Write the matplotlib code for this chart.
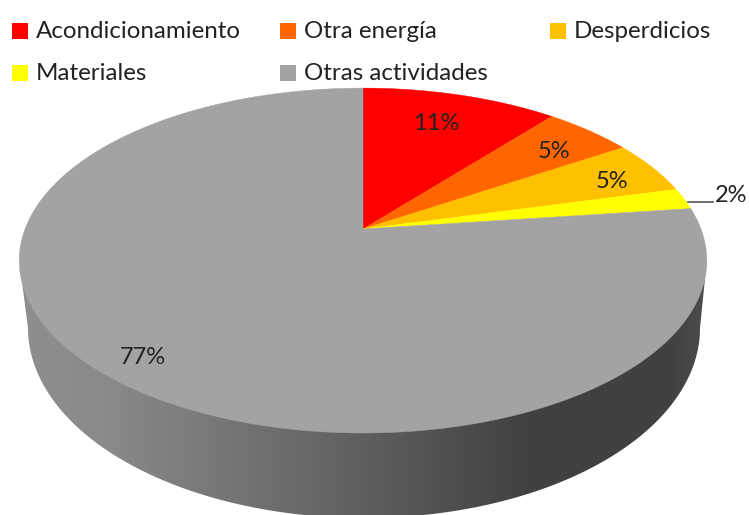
import numpy as np
import matplotlib
matplotlib.use("Agg")
import matplotlib.pyplot as plt
from matplotlib.colors import LinearSegmentedColormap
from matplotlib.patches import Polygon, Rectangle

categories = ['Acondicionamiento', 'Otra energía', 'Desperdicios', 'Materiales', 'Otras actividades']
values = [11, 5, 5, 2, 77]
colors = ['#ff0000', '#ff6600', '#ffc000', '#ffff00', '#a3a3a3']

plt.rcParams['font.family'] = ['Lato', 'DejaVu Sans']


# circle seen in perspective, theta clockwise from the top, around the apex
def top_point(theta):
    u = np.sin(theta)
    v = np.cos(theta)
    w = 1 + 0.183 * v
    return 363 + 338 * u / w, 229 - 166.7 * v / w


fig = plt.figure(figsize=(7.49, 5.15), dpi=100)
ax = fig.add_axes([0, 0, 1, 1])

# side wall: from the widest points of the top rim down around the bottom rim
rim_x, rim_y = top_point(np.linspace(0, 2 * np.pi, 721))
right = rim_x.argmax()
left = rim_x.argmin()
t = np.linspace(np.pi / 2, 3 * np.pi / 2, 300)
xb = 364 + 336 * np.sin(t)
yb = 328 - 190 * np.cos(t)
hull_x = np.r_[rim_x[right], xb, rim_x[left]]
hull_y = np.r_[rim_y[right], yb, rim_y[left]]
side = Polygon(np.c_[hull_x, hull_y], closed=True, facecolor='none', edgecolor='none')
ax.add_patch(side)
wall = LinearSegmentedColormap.from_list('wall', [(0, '#8f8f8f'), (0.12, '#8a8a8a'), (0.5, '#5f5f5f'),
                                                  (0.75, '#404040'), (0.95, '#424242'), (1, '#4c4c4c')])
im = ax.imshow(np.linspace(0, 1, 400)[None, :], cmap=wall, extent=(20, 708, 530, 200), aspect='auto', zorder=1)
im.set_clip_path(side)
ax.set_xlim(0, 749)
ax.set_ylim(515, 0)
ax.axis('off')

# top face
edges = np.radians(np.r_[0, np.cumsum(values)] * 3.6)
for a, b, c in zip(edges[:-1], edges[1:], colors):
    x, y = top_point(np.linspace(a, b, 200))
    ax.add_patch(Polygon(np.c_[np.r_[363, x], np.r_[229, y]], closed=True, facecolor=c, edgecolor=c,
                         linewidth=0.3, zorder=2))

# value labels
label_pos = [(436, 124), (554, 151), (612, 181), (731, 195), (143, 358)]
for v, (lx, ly) in zip(values, label_pos):
    ax.text(lx, ly, f'{v}%', ha='center', va='center', fontsize=17, color='#222222', zorder=3)
ax.plot([688, 713], [202, 202], color='#555555', linewidth=1.2, zorder=3)

# legend
legend_pos = [(12, 31), (280, 31), (550, 31), (12, 73), (280, 73)]
for name, c, (lx, ly) in zip(categories, colors, legend_pos):
    ax.add_patch(Rectangle((lx, ly - 8), 16, 16, facecolor=c, edgecolor='none', zorder=3))
    ax.text(lx + 24, ly, name, ha='left', va='center', fontsize=17.4, color='#222222', zorder=3)

fig.savefig('out.png', dpi=100)
